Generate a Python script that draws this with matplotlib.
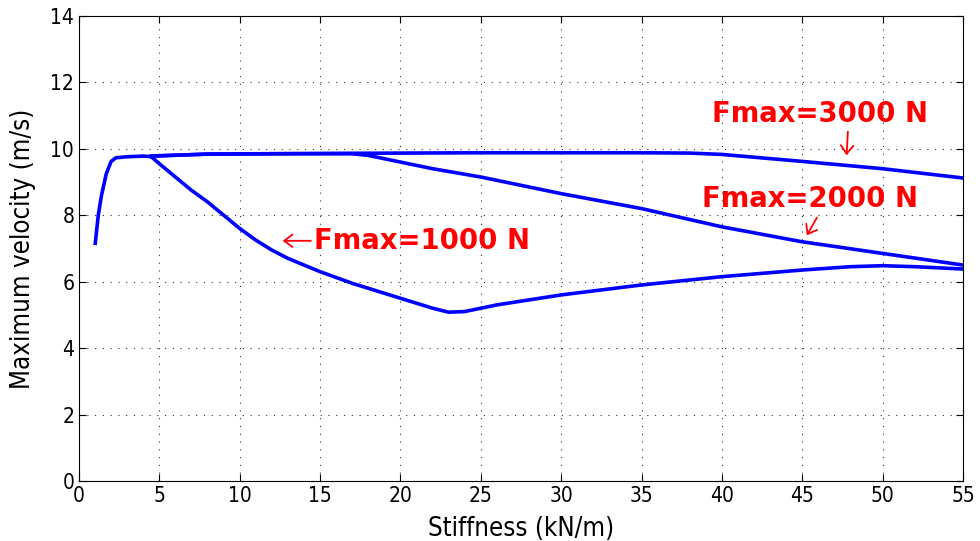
import numpy as np
import matplotlib.pyplot as plt
from matplotlib import font_manager

# stiffness (kN/m) and max velocity (m/s)
k_rise = [1.0, 1.2, 1.4, 1.7, 2.0, 2.3, 3.0, 4.0, 4.5]
v_rise = [7.1, 8.0, 8.6, 9.25, 9.62, 9.73, 9.76, 9.78, 9.76]

k_1000 = [4.5, 5, 6, 7, 8, 9, 10, 11, 12, 13, 15, 17, 20, 22, 23, 24, 26, 28, 30,
          35, 40, 45, 48, 50, 52, 55]
v_1000 = [9.76, 9.55, 9.15, 8.75, 8.4, 8.0, 7.6, 7.25, 6.95, 6.7, 6.3, 5.95, 5.5,
          5.2, 5.08, 5.1, 5.3, 5.45, 5.6, 5.9, 6.15, 6.35, 6.45, 6.48, 6.45, 6.38]

k_2000 = [4.5, 8, 12, 17, 18, 20, 22, 25, 30, 35, 40, 45, 50, 55]
v_2000 = [9.78, 9.84, 9.85, 9.85, 9.8, 9.6, 9.4, 9.15, 8.65, 8.2, 7.65, 7.2, 6.85, 6.5]

k_3000 = [4.5, 8, 15, 25, 35, 38, 40, 45, 50, 55]
v_3000 = [9.78, 9.84, 9.86, 9.88, 9.88, 9.87, 9.83, 9.62, 9.4, 9.12]

xticks = np.arange(0, 56, 5)
yticks = np.arange(0, 15, 2)

# pick a narrow font for the axis text if one is installed
names = set(f.name for f in font_manager.fontManager.ttflist)
if 'DejaVu Sans Condensed' in names:
    axfont = 'DejaVu Sans Condensed'
elif 'Liberation Sans Narrow' in names:
    axfont = 'Liberation Sans Narrow'
else:
    axfont = 'DejaVu Sans'
cond = [f for f in font_manager.fontManager.ttflist
        if f.name == 'DejaVu Sans' and f.stretch == 'condensed']
if axfont == 'DejaVu Sans' and cond:
    axstretch = 'condensed'
else:
    axstretch = 'normal'

fig = plt.figure(figsize=(9.8, 5.41), dpi=100)
ax = fig.add_axes([0.0806, 0.111, 0.902, 0.8596])

lw = 2.6
ax.plot(k_rise, v_rise, color='blue', lw=lw, solid_capstyle='butt')
ax.plot(k_1000, v_1000, color='blue', lw=lw)
ax.plot(k_2000, v_2000, color='blue', lw=lw)
ax.plot(k_3000, v_3000, color='blue', lw=lw)

ax.set_xlim(0, 55)
ax.set_ylim(0, 14)
ax.set_xticks(xticks)
ax.set_yticks(yticks)
ax.grid(True, linestyle=(0, (1, 6)), color='#333333', linewidth=0.8)
ax.tick_params(direction='in', top=True, right=True, labelsize=15, length=5)
for lab in ax.get_xticklabels() + ax.get_yticklabels():
    lab.set_family(axfont)
    lab.set_stretch(axstretch)
ax.set_xlabel('Stiffness (kN/m)', fontsize=18.5, family=axfont, stretch=axstretch,
              labelpad=7)
ax.set_ylabel('Maximum velocity (m/s)', fontsize=18.5, family=axfont, stretch=axstretch,
              labelpad=10)

red = 'red'
arrow = dict(arrowstyle='->,head_length=0.6,head_width=0.45', color=red, lw=1.3)
ax.text(46.1, 11.05, 'Fmax=3000 N', color=red, fontsize=19.8, fontweight='bold',
        ha='center', va='center')
ax.annotate('', xy=(47.75, 9.72), xytext=(47.85, 10.6), arrowprops=arrow)
ax.text(45.5, 8.5, 'Fmax=2000 N', color=red, fontsize=19.8, fontweight='bold',
        ha='center', va='center')
ax.annotate('', xy=(45.2, 7.32), xytext=(46.0, 8.0), arrowprops=arrow)
ax.annotate('', xy=(12.5, 7.23), xytext=(14.6, 7.23), arrowprops=arrow)
ax.text(14.6, 7.23, 'Fmax=1000 N', color=red, fontsize=19.8, fontweight='bold',
        ha='left', va='center')

fig.savefig('out.png', dpi=100)
